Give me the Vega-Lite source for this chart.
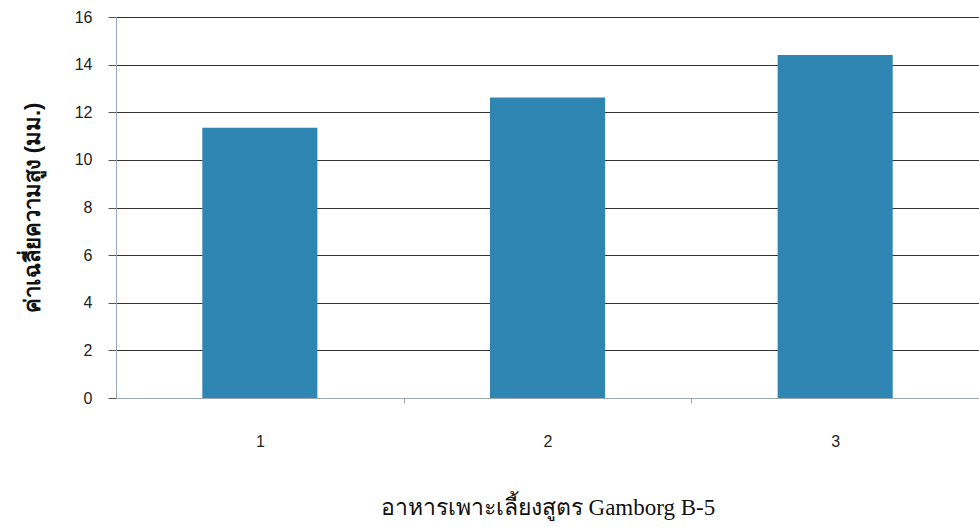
{
  "$schema": "https://vega.github.io/schema/vega-lite/v6.json",
  "autosize": "none",
  "width": 863,
  "height": 381,
  "padding": {"left": 116, "top": 17, "right": 0, "bottom": 129},
  "background": "white",
  "data": {"values": [
    {"formula": "1", "height": 11.35},
    {"formula": "2", "height": 12.62},
    {"formula": "3", "height": 14.4}
  ]},
  "mark": {"type": "bar", "color": "#2f86b3"},
  "encoding": {
    "x": {
      "field": "formula", "type": "nominal",
      "scale": {"paddingInner": 0.6, "paddingOuter": 0.3},
      "axis": {
        "title": "อาหารเพาะเลี้ยงสูตร Gamborg B-5",
        "titleFont": "Liberation Serif", "titleFontSize": 23, "titleFontWeight": "normal", "titleColor": "#111",
        "titlePadding": 47,
        "labelAngle": 0, "labelFont": "Liberation Sans", "labelFontSize": 16, "labelColor": "#222",
        "labelPadding": 30, "tickOffset": 143.8, "labelOffset": -143.8, "tickSize": 5, "tickColor": "#9aa7b0",
        "domainColor": "#9aa7b0", "grid": false
      }
    },
    "y": {
      "field": "height", "type": "quantitative",
      "scale": {"domain": [0, 16]},
      "axis": {
        "title": "ค่าเฉลี่ยความสูง (มม.)",
        "titleFont": "Liberation Sans", "titleFontSize": 22, "titleFontWeight": "bold", "titleColor": "#111",
        "titlePadding": 30,
        "values": [0, 2, 4, 6, 8, 10, 12, 14, 16],
        "labelFont": "Liberation Sans", "labelFontSize": 16, "labelColor": "#222", "labelPadding": 16,
        "tickSize": 8, "tickColor": "#555", "domainColor": "#9aa7b0",
        "grid": true, "gridColor": "#333", "gridWidth": 1.2
      }
    }
  },
  "config": {"view": {"stroke": null}}
}
